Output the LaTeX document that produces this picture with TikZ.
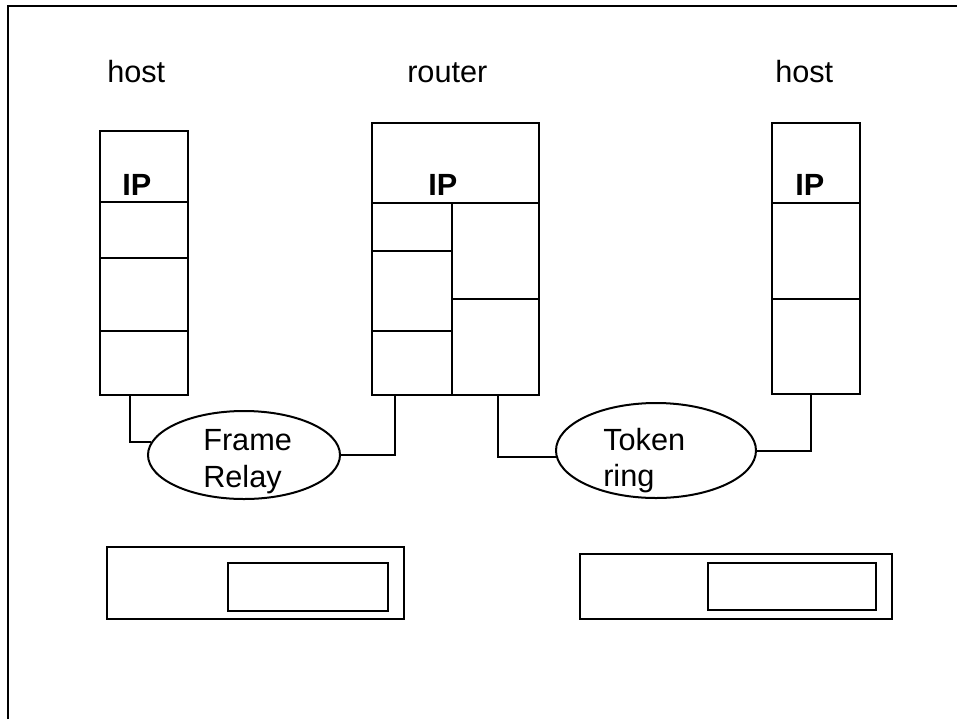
\documentclass[tikz,border=0pt]{standalone}
\usepackage{fontspec}
\setmainfont{Liberation Sans}
\usetikzlibrary{shapes.geometric,fit,calc}
\tikzset{
  cell/.style={draw, rectangle, inner sep=0pt, line width=1.5pt},
  net/.style={draw, ellipse, inner sep=0pt, line width=1.5pt},
  link/.style={line width=1.5pt},
  lbl/.style={inner sep=0pt, font=\fontsize{23}{27.5}\selectfont},
  iplbl/.style={inner sep=0pt, font=\bfseries\fontsize{23}{27.5}\selectfont},
  nettext/.style={inner sep=0pt, align=left, font=\fontsize{23}{27.5}\selectfont},
  frameline/.style={line width=2.2pt}
}
\begin{document}
\begin{tikzpicture}[x=0.75pt, y=-0.75pt]
\useasboundingbox (0,0) rectangle (957,719);
% outer frame
\draw[frameline] (8,719) -- (8,6) -- (957,6);

% labels
\node[lbl, anchor=base west] (lh) at (107,82) {host};
\node[lbl, anchor=base west] (lr) at (407,82) {router};
\node[lbl, anchor=base west] (rh) at (775,82) {host};

% left host
\node[cell, fit={(100,131) (188,202)}] (hl0) {};
\node[cell, fit={(100,202) (188,258)}] (hl1) {};
\node[cell, fit={(100,258) (188,331)}] (hl2) {};
\node[cell, fit={(100,331) (188,395)}] (hl3) {};
\node[iplbl, anchor=base west] (ip1) at (122,195) {IP};

% router
\node[cell, fit={(372,123) (539,203)}] (r0) {};
\node[cell, fit={(372,203) (452,251)}] (rl1) {};
\node[cell, fit={(372,251) (452,331)}] (rl2) {};
\node[cell, fit={(372,331) (452,395)}] (rl3) {};
\node[cell, fit={(452,203) (539,299)}] (rr1) {};
\node[cell, fit={(452,299) (539,395)}] (rr2) {};
\node[iplbl, anchor=base west] (ip2) at (428,195) {IP};

% right host
\node[cell, fit={(772,123) (860,203)}] (h0) {};
\node[cell, fit={(772,203) (860,299)}] (h1) {};
\node[cell, fit={(772,299) (860,394)}] (h2) {};
\node[iplbl, anchor=base west] (ip3) at (795,195) {IP};

% networks
\node[net, minimum width=144pt, minimum height=66pt] (fr) at (244,455) {};
\node[nettext, anchor=west] (frt) at (203,461.5) {Frame\\Relay};
\node[net, minimum width=150pt, minimum height=71.25pt] (tr) at (656,450.5) {};
\node[nettext, anchor=west] (trt) at (603,460.5) {Token\\ring};

% connectors
\draw[link] ($(hl3.south west)+(31,0)$) |- (fr.172);
\draw[link] (fr.east) -| ($(rl3.south west)+(24,0)$);
\draw[link] ($(rr2.south west)+(47,0)$) |- (tr.184);
\draw[link] (tr.east) -| ($(h2.south west)+(40,0)$);

% bottom boxes
\node[cell, fit={(107,547) (404,619)}] (bl) {};
\node[cell, fit={(228,563) (388,611)}] (bli) {};
\node[cell, fit={(580,554) (892,619)}] (br) {};
\node[cell, fit={(708,563) (876,610)}] (bri) {};
\end{tikzpicture}
\end{document}
